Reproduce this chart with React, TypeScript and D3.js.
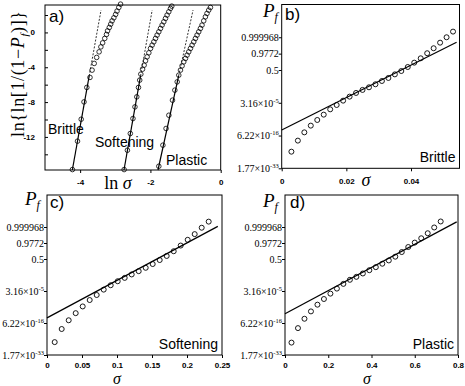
import React from 'react';
import * as d3 from 'd3';

// panel a) Weibull plot: ln sigma vs ln{ln[1/(1-Pf)]}
const brittleLnSigma = [-4.22, -4.075, -3.97, -3.89, -3.81, -3.72, -3.66, -3.6, -3.53, -3.46, -3.41, -3.36, -3.3, -3.25, -3.22, -3.17, -3.13, -3.09, -3.04, -2.99, -2.95, -2.9, -2.85];
const brittleWeibull = [-15.75, -12.49, -9.97, -7.98, -6.32, -5.17, -4.33, -3.56, -2.87, -2.23, -1.66, -1.2, -0.69, -0.23, 0.18, 0.57, 0.95, 1.33, 1.68, 2.07, 2.45, 2.87, 3.25];
const softeningLnSigma = [-2.748, -2.655, -2.572, -2.497, -2.44, -2.388, -2.34, -2.305, -2.273, -2.224, -2.179, -2.139, -2.094, -2.045, -1.997, -1.952, -1.903, -1.855, -1.81, -1.761, -1.713, -1.668, -1.619, -1.571, -1.526, -1.477, -1.429, -1.392];
const softeningWeibull = [-15.75, -13.53, -11.61, -9.89, -8.55, -7.4, -6.32, -5.48, -4.79, -4.22, -3.76, -3.26, -2.8, -2.34, -1.84, -1.46, -1.08, -0.69, -0.31, 0.07, 0.46, 0.84, 1.22, 1.61, 1.99, 2.37, 2.76, 3.02];
const plasticLnSigma = [-1.761, -1.645, -1.555, -1.475, -1.372, -1.305, -1.238, -1.193, -1.145, -1.099, -1.051, -1.003, -0.957, -0.909, -0.861, -0.815, -0.767, -0.719, -0.673, -0.625, -0.577, -0.532, -0.483, -0.435, -0.39, -0.341, -0.293];
const plasticWeibull = [-15.37, -12.95, -11.03, -9.51, -7.78, -6.63, -5.68, -4.91, -4.33, -3.84, -3.38, -2.99, -2.61, -2.23, -1.84, -1.46, -1.08, -0.69, -0.31, 0.07, 0.46, 0.84, 1.33, 1.79, 2.18, 2.56, 2.87];

// fitted lines: [start, end of solid part, end of dashed part]
const brittleFit = [[-4.222, -15.8], [-3.742, -5], [-3.406, 2.56]];
const softeningFit = [[-2.752, -15.8], [-2.281, -5], [-1.95, 2.56]];
const plasticFit = [[-1.784, -15.8], [-1.197, -5], [-0.787, 2.56]];

const aXTicks = [-4, -2, 0];
const aYTicks = [2, 0, -2, -4, -6, -8, -10, -12, -14];
const aYLabels = [0, -4, -8, -12];

// panels b-d) normal probability plots (y = probit of Pf)
const probTicks = [4, 2, 0, -4, -8, -12];
const probLabels = ['0.999968', '0.9772', '0.5', '3.16×10^-5', '6.22×10^-16', '1.77×10^-33'];

const brittleSigma = [0.003, 0.005, 0.007, 0.009, 0.011, 0.013, 0.015, 0.017, 0.019, 0.021, 0.023, 0.025, 0.027, 0.029, 0.031, 0.033, 0.035, 0.037, 0.039, 0.041, 0.043, 0.045, 0.047, 0.049, 0.051, 0.053];
const brittleProbit = [-9.97, -8.62, -7.61, -6.79, -6.1, -5.45, -4.8, -4.27, -3.74, -3.25, -2.8, -2.43, -2.11, -1.74, -1.34, -0.97, -0.53, -0.12, 0.37, 0.9, 1.43, 2.05, 2.66, 3.34, 4.0, 4.69];
const brittleProbFit = [[0, -7.32], [0.0541, 3.38]];

const softeningSigma = [0.011, 0.021, 0.031, 0.041, 0.051, 0.061, 0.071, 0.081, 0.091, 0.101, 0.111, 0.121, 0.131, 0.141, 0.151, 0.161, 0.171, 0.181, 0.191, 0.201, 0.211, 0.221, 0.231];
const softeningProbit = [-10.39, -8.75, -7.66, -6.77, -5.93, -5.13, -4.5, -3.83, -3.28, -2.78, -2.36, -1.93, -1.52, -1.1, -0.63, -0.13, 0.38, 0.97, 1.68, 2.4, 3.11, 3.91, 4.67];
const softeningProbFit = [[0, -7.36], [0.244, 4.08]];

const plasticSigma = [0.03, 0.06, 0.09, 0.12, 0.15, 0.18, 0.21, 0.24, 0.27, 0.3, 0.33, 0.36, 0.39, 0.42, 0.45, 0.48, 0.51, 0.54, 0.57, 0.6, 0.63, 0.66, 0.69, 0.72];
const plasticProbit = [-10.45, -8.64, -7.47, -6.55, -5.71, -5.0, -4.33, -3.7, -3.11, -2.6, -2.23, -1.81, -1.4, -1.02, -0.59, -0.18, 0.29, 0.87, 1.5, 2.05, 2.59, 3.22, 3.94, 4.69];
const plasticProbFit = [[0, -6.84], [0.794, 4.64]];

const SANS = '"Liberation Sans", Arial, sans-serif';
const SERIF = '"Liberation Serif", "Times New Roman", serif';

type Sel = d3.Selection<SVGGElement, unknown, null, undefined>;

function frame(g: Sel, l: number, r: number, t: number, b: number) {
    g.append('rect').attr('x', l).attr('y', t).attr('width', r - l).attr('height', b - t)
        .attr('fill', 'none').attr('stroke', '#000').attr('stroke-width', 1);
}

function pfLabel(g: Sel, x: number, y: number) {
    const t = g.append('text').attr('x', x).attr('y', y).attr('font-family', SERIF).attr('font-size', 19);
    t.append('tspan').attr('font-style', 'italic').text('P');
    t.append('tspan').attr('font-style', 'italic').attr('font-size', 12).attr('dy', 4).text('f');
}

function sigmaLabel(g: Sel, x: number, y: number, size: number) {
    g.append('text').attr('x', x).attr('y', y).attr('text-anchor', 'middle')
        .attr('font-family', SERIF).attr('font-style', 'italic').attr('font-size', size).text('σ');
}

function probPanel(g: Sel, opt: {
    left: number; right: number; top: number; bottom: number; xmax: number; xTicks: number[];
    sigma: number[]; probit: number[]; fit: number[][]; tag: string; name: string;
    labelY: number; sigmaX: number; sigmaY: number; sigmaSize: number;
    pfX: number; pfY: number; tagX: number; tagY: number;
}) {
    const x = d3.scaleLinear().domain([0, opt.xmax]).range([opt.left, opt.right]);
    const y = d3.scaleLinear().domain([-12, 8]).range([opt.bottom, opt.top]);

    frame(g, opt.left, opt.right, opt.top, opt.bottom);

    g.append('g').attr('transform', `translate(0,${opt.bottom})`)
        .call(d3.axisBottom(x).tickValues(opt.xTicks).tickSizeInner(3).tickSizeOuter(0).tickFormat(d => String(d)))
        .call(s => s.select('.domain').remove())
        .call(s => s.selectAll('.tick text').attr('font-family', SANS).attr('font-weight', 'bold')
            .attr('font-size', 8).attr('dy', null).attr('y', opt.labelY - opt.bottom));

    const ya = g.append('g').attr('transform', `translate(${opt.left},0)`)
        .call(d3.axisLeft(y).tickValues(probTicks).tickSizeInner(3).tickSizeOuter(0).tickFormat(() => ''));
    ya.select('.domain').remove();
    ya.selectAll<SVGTextElement, number>('.tick text').each(function (d) {
        const lab = probLabels[probTicks.indexOf(d)];
        const t = d3.select(this).attr('font-family', SERIF).attr('font-size', 10).attr('x', -3).attr('dy', '0.33em');
        const [base, exp] = lab.split('^');
        t.append('tspan').text(base);
        if (exp) t.append('tspan').attr('font-size', 6.5).attr('dy', -4).text(exp);
    });

    const fitLine = d3.line<number[]>().x(d => x(d[0])).y(d => y(d[1]));
    g.append('path').attr('d', fitLine(opt.fit)).attr('fill', 'none').attr('stroke', '#000').attr('stroke-width', 1.2);

    g.append('g').selectAll('circle').data(opt.sigma).enter().append('circle')
        .attr('cx', d => x(d)).attr('cy', (d, i) => y(opt.probit[i])).attr('r', 2.5)
        .attr('fill', 'none').attr('stroke', '#000').attr('stroke-width', 0.9);

    pfLabel(g, opt.pfX, opt.pfY);
    g.append('text').attr('x', opt.tagX).attr('y', opt.tagY).attr('font-family', SANS).attr('font-size', 17).text(opt.tag);
    g.append('text').attr('x', opt.right - 4).attr('y', opt.bottom - 6).attr('text-anchor', 'end')
        .attr('font-family', SANS).attr('font-size', 14).text(opt.name);
    sigmaLabel(g, opt.sigmaX, opt.sigmaY, opt.sigmaSize);
}

const App: React.FC = () => {
    const svgRef = React.useRef<SVGSVGElement>(null);

    React.useEffect(() => {
        if (!svgRef.current) return;
        const svg = d3.select(svgRef.current);
        svg.selectAll('*').remove();
        const root = svg.append('g') as unknown as Sel;

        // ---- panel a ----
        const left = 45, right = 220.7, top = 5, bottom = 170;
        const ax = d3.scaleLinear().domain([-5, 0]).range([left, right]);
        const ay = d3.scaleLinear().domain([-15.8, 3.15]).range([bottom, top]);
        frame(root, left, right, top, bottom);

        root.append('g').attr('transform', `translate(0,${bottom})`)
            .call(d3.axisBottom(ax).tickValues(aXTicks).tickSizeInner(3).tickSizeOuter(0).tickFormat(d => String(d)))
            .call(s => s.select('.domain').remove())
            .call(s => s.selectAll('.tick text').attr('font-family', SANS).attr('font-weight', 'bold')
                .attr('font-size', 8).attr('dy', null).attr('y', 15));

        root.append('g').attr('transform', `translate(${left},0)`)
            .call(d3.axisLeft(ay).tickValues(aYTicks).tickSizeInner(-3).tickSizeOuter(0)
                .tickFormat(d => (aYLabels.includes(d as number) ? String(d) : '')))
            .call(s => s.select('.domain').remove())
            .call(s => s.selectAll('.tick text').attr('font-family', SANS).attr('font-weight', 'bold')
                .attr('font-size', 8).attr('x', -10));

        const curves = [
            { xs: brittleLnSigma, ys: brittleWeibull, fit: brittleFit },
            { xs: softeningLnSigma, ys: softeningWeibull, fit: softeningFit },
            { xs: plasticLnSigma, ys: plasticWeibull, fit: plasticFit },
        ];
        const ln = d3.line<number[]>().x(d => ax(d[0])).y(d => ay(d[1]));
        curves.forEach(c => {
            root.append('path').attr('d', ln(c.fit.slice(0, 2))).attr('fill', 'none')
                .attr('stroke', '#000').attr('stroke-width', 1.2);
            root.append('path').attr('d', ln(c.fit.slice(1))).attr('fill', 'none')
                .attr('stroke', '#000').attr('stroke-width', 0.8).attr('stroke-dasharray', '2,1.5');
            root.append('g').selectAll('circle').data(c.xs).enter().append('circle')
                .attr('cx', d => ax(d)).attr('cy', (d, i) => ay(c.ys[i])).attr('r', 2.3)
                .attr('fill', 'none').attr('stroke', '#000').attr('stroke-width', 0.8);
        });

        root.append('text').attr('x', 49).attr('y', 22).attr('font-family', SANS).attr('font-size', 17).text('a)');
        [['Brittle', 48, 134], ['Softening', 95, 147], ['Plastic', 166, 165]].forEach(([t, x, y]) => {
            root.append('text').attr('x', x as number).attr('y', y as number).attr('font-family', SANS)
                .attr('font-size', 14).text(t as string);
        });

        const xl = root.append('text').attr('x', 118).attr('y', 189).attr('text-anchor', 'middle')
            .attr('font-family', SERIF).attr('font-size', 18);
        xl.append('tspan').text('ln ');
        xl.append('tspan').attr('font-style', 'italic').text('σ');

        const yl = root.append('text').attr('transform', 'translate(24,74) rotate(-90)').attr('text-anchor', 'middle')
            .attr('font-family', SERIF).attr('font-size', 18).attr('textLength', 126).attr('lengthAdjust', 'spacing');
        yl.append('tspan').text('ln{ln[1/(1−');
        yl.append('tspan').attr('font-style', 'italic').text('P');
        yl.append('tspan').attr('font-style', 'italic').attr('font-size', 11).attr('dy', 4).text('f');
        yl.append('tspan').attr('dy', -4).text(')]}');

        // ---- panels b, c, d ----
        probPanel(root, {
            left: 281.7, right: 459.5, top: 4.5, bottom: 168.3, xmax: 0.055, xTicks: [0, 0.02, 0.04],
            sigma: brittleSigma, probit: brittleProbit, fit: brittleProbFit, tag: 'b)', name: 'Brittle',
            labelY: 184, sigmaX: 366, sigmaY: 186, sigmaSize: 18, pfX: 263, pfY: 17, tagX: 285, tagY: 20,
        });
        probPanel(root, {
            left: 47, right: 222, top: 195, bottom: 355, xmax: 0.25, xTicks: [0, 0.05, 0.1, 0.15, 0.2, 0.25],
            sigma: softeningSigma, probit: softeningProbit, fit: softeningProbFit, tag: 'c)', name: 'Softening',
            labelY: 367.5, sigmaX: 117, sigmaY: 384, sigmaSize: 16, pfX: 25, pfY: 205, tagX: 50, tagY: 208,
        });
        probPanel(root, {
            left: 285, right: 458, top: 195, bottom: 355, xmax: 0.8, xTicks: [0, 0.2, 0.4, 0.6, 0.8],
            sigma: plasticSigma, probit: plasticProbit, fit: plasticProbFit, tag: 'd)', name: 'Plastic',
            labelY: 368, sigmaX: 367, sigmaY: 384, sigmaSize: 16, pfX: 263, pfY: 207, tagX: 290, tagY: 208,
        });
    }, []);

    return (
        <svg ref={svgRef} width={465} height={386}
            style={{ position: 'absolute', left: 0, top: 0, background: '#fff' }} />
    );
};

export default App;
